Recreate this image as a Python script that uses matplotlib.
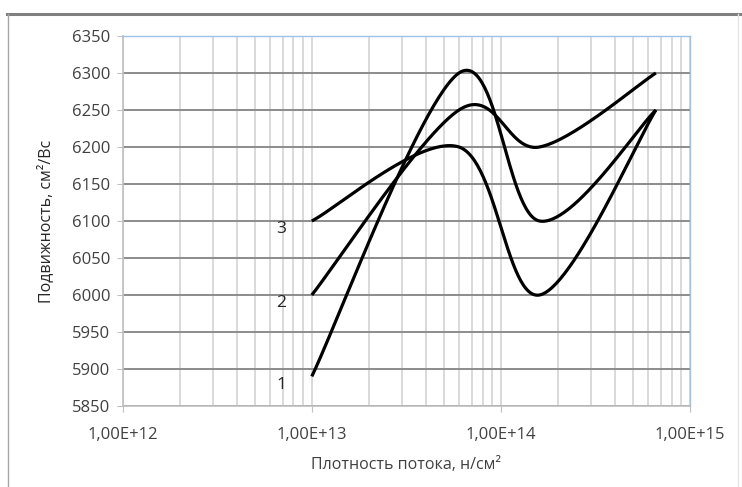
import numpy as np
import matplotlib.pyplot as plt
from matplotlib.lines import Line2D
from matplotlib.ticker import LogLocator, FixedLocator

plt.rcParams['font.family'] = ['Open Sans', 'DejaVu Sans']

# data
flux = [1e13, 6e13, 1.6e14, 6.6e14]
mob_1 = [5890, 6300, 6100, 6250]
mob_2 = [6000, 6250, 6200, 6300]
mob_3 = [6100, 6200, 6000, 6250]
curve_labels = ['1', '2', '3']
x_ticks = [1e12, 1e13, 1e14, 1e15]
x_tick_labels = ['1,00E+12', '1,00E+13', '1,00E+14', '1,00E+15']
y_ticks = list(range(5850, 6351, 50))

PX_DEC = 189.0   # pixels per decade (for smoothing in screen space)
PX_UNIT = 0.738  # pixels per y unit


def excel_smooth(xs, ys, n=60):
    # catmull-rom style bezier in screen space, like Excel "smoothed line"
    u = np.log10(xs) * PX_DEC
    v = np.array(ys, dtype=float) * PX_UNIT
    P = np.column_stack([u, v])
    pts = np.vstack([P[0], P, P[-1]])
    out = []
    t = np.linspace(0, 1, n)[:, None]
    for i in range(1, len(P)):
        p0, p1, p2, p3 = pts[i - 1], pts[i], pts[i + 1], pts[i + 2]
        c1 = p1 + (p2 - p0) / 6
        c2 = p2 - (p3 - p1) / 6
        seg = ((1 - t) ** 3) * p1 + 3 * ((1 - t) ** 2) * t * c1 + 3 * (1 - t) * t ** 2 * c2 + t ** 3 * p2
        out.append(seg)
    out = np.vstack(out)
    return 10 ** (out[:, 0] / PX_DEC), out[:, 1] / PX_UNIT


fig = plt.figure(figsize=(7.42, 4.87), dpi=100)
ax = fig.add_axes([122.7 / 742, 1 - 406 / 487, (690 - 122.7) / 742, (406 - 36) / 487])

ax.set_xscale('log')
ax.set_xlim(1e12, 1e15)
ax.set_ylim(5850, 6350)

ax.xaxis.set_major_locator(FixedLocator(x_ticks))
ax.set_xticklabels(x_tick_labels)
ax.xaxis.set_minor_locator(LogLocator(base=10, subs=np.arange(2, 10)))
ax.yaxis.set_major_locator(FixedLocator(y_ticks))

ax.grid(True, which='both', axis='x', color='#d9d9d9', lw=1.4)
ax.grid(True, which='major', axis='y', color='#8c8c8c', lw=1.4)
ax.set_axisbelow(True)

for ys in (mob_1, mob_2, mob_3):
    sx, sy = excel_smooth(flux, ys)
    ax.plot(sx, sy, color='black', lw=2.3, solid_capstyle='butt', zorder=3)

for lab, ys in zip(curve_labels, (mob_1, mob_2, mob_3)):
    ax.annotate(lab, (flux[0], ys[0]), xytext=(-22, -6), textcoords='offset points',
                ha='center', va='center', fontsize=12.5, color='#262626')

for s in ('top', 'right'):
    ax.spines[s].set_color('#9dc3e6')
    ax.spines[s].set_linewidth(1.0)
for s in ('left', 'bottom'):
    ax.spines[s].set_color('#bfbfbf')
    ax.spines[s].set_linewidth(1.2)

ax.tick_params(axis='both', which='major', length=4, color='#bfbfbf', labelsize=12,
               labelcolor='#404040')
ax.tick_params(axis='x', which='minor', length=0)
ax.tick_params(axis='x', which='major', pad=11)
ax.tick_params(axis='y', which='major', pad=5)

ax.set_xlabel('Плотность потока, н/см²', fontsize=11.5, color='#404040', labelpad=10)
ax.set_ylabel('Подвижность, см²/Вс', fontsize=11.5, color='#262626', labelpad=13)

# outer chart frame
fig.add_artist(Line2D([7 / 742, 1], [1 - 14 / 487, 1 - 14 / 487], color='#7f7f7f', lw=2.2))
fig.add_artist(Line2D([8 / 742, 8 / 742], [0, 1 - 14 / 487], color='#a6a6a6', lw=1.0))
fig.add_artist(Line2D([738 / 742, 738 / 742], [0, 1 - 14 / 487], color='#e6e6e6', lw=1.0))

fig.savefig('out.png', dpi=100)
